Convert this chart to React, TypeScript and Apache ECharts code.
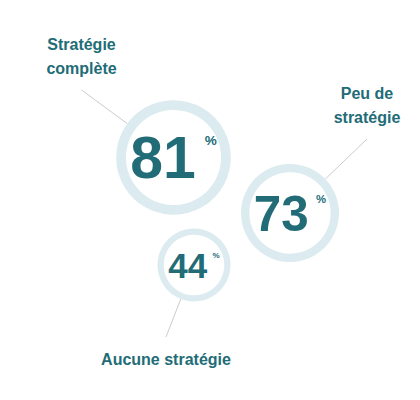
import { useEffect, useRef } from "react";
import * as echarts from "echarts";

const TEAL = "#226c77";   // chiffres + libellés
const RING = "#dbebf0";   // anneaux
const GUIDE = "#cccccc";  // traits de rappel
const FONT = "'Liberation Sans', Arial, sans-serif";

// données
const categories = ["Stratégie\ncomplète", "Peu de\nstratégie", "Aucune stratégie"];
const values = [81, 73, 44];
// placement des bulles sur le plan caché (0..420 x 0..400)
const posX = [173.5, 290, 194];
const posY = [157.5, 213, 265];

// position des libellés (style)
const NAME_AT: [number, number][] = [[81.5, 56], [367, 105], [166, 359]];

// rayon extérieur de l'anneau selon la valeur (ajusté sur l'image)
const ringR = (v: number) => 36.5 + 0.431 * (v - 44) + 0.0164 * (v - 44) * (v - 73);
const ringW = (v: number) => ringR(v) * 0.17;
const numSize = (v: number) => ringR(v) * 1.15 - 7;

export default function App() {
  const ref = useRef<HTMLDivElement>(null);

  useEffect(() => {
    if (!ref.current) return;
    const inst = echarts.init(ref.current, undefined, { renderer: "svg" });

    const points = values.map((v, i) => [posX[i], posY[i], v]);

    inst.setOption({
      animation: false,
      backgroundColor: "#ffffff",
      grid: { left: 0, right: 0, top: 0, bottom: 0 },
      xAxis: { type: "value", min: 0, max: 420, show: false },
      yAxis: { type: "value", min: 0, max: 400, inverse: true, show: false },
      series: [
        {
          // anneaux + pourcentage
          type: "scatter",
          silent: true,
          symbol: "circle",
          symbolSize: (d: number[]) => 2 * (ringR(d[2]) - ringW(d[2]) / 2),
          data: points.map((p, i) => {
            const v = values[i];
            const fs = numSize(v);
            return {
              value: p,
              itemStyle: { color: "#ffffff", opacity: 1, borderColor: RING, borderWidth: ringW(v) },
              label: {
                show: true,
                position: "inside",
                formatter: `{n|${v}}{p|%}`,
                rich: {
                  n: { fontSize: fs, fontWeight: "bold", color: TEAL, fontFamily: FONT },
                  p: {
                    fontSize: fs * 0.23, fontWeight: "bold", color: TEAL, fontFamily: FONT,
                    verticalAlign: "top", padding: [fs * 0.1, 0, 0, fs * 0.15],
                  },
                },
              },
            };
          }),
          emphasis: { disabled: true },
        },
        {
          // libellés + traits de rappel
          type: "scatter",
          silent: true,
          symbol: "circle",
          symbolSize: (d: number[]) => 2 * ringR(d[2]),
          itemStyle: { color: "rgba(0,0,0,0)", opacity: 1 },
          data: points.map((p, i) => ({ value: p, name: categories[i] })),
          label: {
            show: true,
            position: "inside",
            formatter: "{b}",
            color: TEAL,
            fontFamily: FONT,
            fontWeight: "bold",
            fontSize: 16,
            lineHeight: 24,
            align: "center",
            padding: [10, 0, 10, 0],
          },
          labelLayout: (params: { dataIndex: number }) => ({
            x: NAME_AT[params.dataIndex][0],
            y: NAME_AT[params.dataIndex][1],
            align: "center",
            verticalAlign: "middle",
          }),
          labelLine: { show: true, length2: 0, lineStyle: { color: GUIDE, width: 1 } },
          emphasis: { disabled: true },
        },
      ],
    });

    return () => inst.dispose();
  }, []);

  return <div ref={ref} style={{ position: "fixed", left: 0, top: 0, width: 420, height: 400 }} />;
}
